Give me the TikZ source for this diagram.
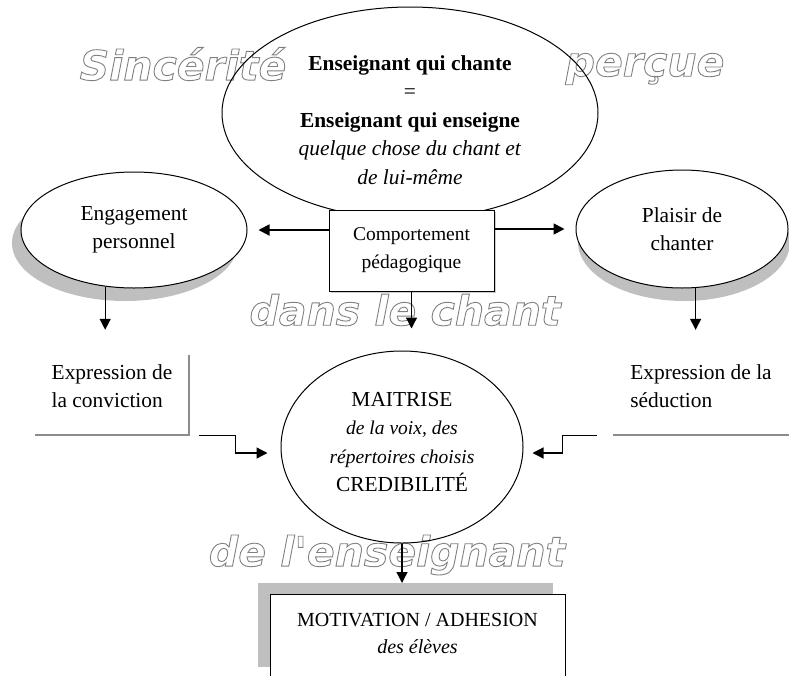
\documentclass[tikz,border=0pt]{standalone}
\usepackage{fontspec}
\setmainfont{Liberation Serif}
\newfontfamily\ghostfont{DejaVu Sans}
\newcommand{\ghostword}[1]{\special{pdf:literal direct 2 Tr 0.9 w 0.5 G}#1\special{pdf:literal direct 0 Tr}}
\usetikzlibrary{arrows.meta,positioning,shapes.geometric,shadows,calc}

\begin{document}
\begin{tikzpicture}[x=1pt, y=-1pt,
		ghost/.style={text=white, inner sep=0pt, font=\ghostfont\bfseries\itshape\fontsize{41}{41}\selectfont},
		bubble/.style={ellipse, draw, line width=1pt, inner sep=0pt, align=center, font=\fontsize{21.4}{28.5}\selectfont},
		bubshadow/.style={fill=white, drop shadow={shadow xshift=#1, shadow yshift=-13pt, fill=black!25, opacity=1}},
		card/.style={rectangle, draw, line width=1pt, fill=white, align=center},
		note/.style={align=left, inner sep=0pt, minimum height=80, font=\fontsize{21.4}{28}\selectfont},
		rim/.style={draw=black!45, line width=1.6pt},
		flow/.style={-{Triangle[length=11pt,width=11pt]}, line width=1.3pt}]
			\useasboundingbox (0,0) rectangle (789,675);

			% Watermark words behind the diagram
			\node[ghost] (wsinc) at (183,64) {\ghostword{Sincérité}};
			\node[ghost] (wperc) at (645,69) {\ghostword{perçue}};
			\node[ghost] (wdans) at (405,310) {\ghostword{dans le chant}};
			\node[ghost] (wens) at (387,555) {\ghostword{de l'enseignant}};

			% Top bubble
			\node[bubble, minimum width=376, minimum height=212] (chante) at (410,113)
				{\mbox{}\\[0pt]\textbf{Enseignant qui chante}\\=\\\textbf{Enseignant qui enseigne}\\\textit{quelque chose du chant et}\\\textit{de lui-même}};

			% Side bubbles
			\node[bubble, bubshadow=-9pt, minimum width=226, minimum height=116] (engage) at (134,230) {Engagement\\personnel};
			\node[bubble, bubshadow=2pt, minimum width=212, minimum height=118] (plaisir) at (682,229) {Plaisir de\\chanter};

			% Central box
			\node[card, minimum width=165, minimum height=81, font=\fontsize{19.5}{28}\selectfont,
				drop shadow={shadow xshift=2pt, shadow yshift=-2pt, fill=black!20, opacity=1}] (comport) at (411.5,250.5)
				{Comportement\\pédagogique};

			% Expression texts
			\node[note, minimum width=154] (conv) at (112,395) {Expression de\\la conviction\\[-10pt]\mbox{}};
			\node[note, minimum width=176] (seduc) at (701,395) {Expression de la\\séduction\\[-10pt]\mbox{}};
			\draw[rim] (conv.north east) -- (conv.south east) -- (conv.south west);
			\draw[rim] (seduc.south west) -- (seduc.south east);

			% Middle bubble
			\node[bubble, minimum width=242, minimum height=192] (maitrise) at (402,447)
				{MAITRISE\\{\fontsize{19.5}{27}\selectfont\itshape de la voix, des}\\{\fontsize{19.5}{27}\selectfont\itshape répertoires choisis}\\CREDIBILITÉ\\[-18pt]\mbox{}};

			% Bottom box
			\node[card, anchor=north, minimum width=295, minimum height=84, font=\fontsize{20}{27}\selectfont,
				drop shadow={shadow xshift=-12pt, shadow yshift=12pt, fill=black!25, opacity=1}] (motiv) at (417.5,594)
				{MOTIVATION / ADHESION\\\textit{des élèves}\\[-20pt]\mbox{}};

			% Arrows
			\draw[flow, line width=1.8pt, shorten >=11pt] (comport.west |- engage.east) -- (engage.east);
			\draw[flow, line width=1.8pt, shorten >=11pt] (comport.east |- plaisir.west) -- (plaisir.west);
			\draw[flow, shorten >=22pt] (comport.south) -- (comport.south |- maitrise.north);
			\draw[flow, shorten >=25pt] (engage.243) -- (engage.243 |- conv.north);
			\draw[flow, shorten >=25pt] (plaisir.283) -- (plaisir.283 |- seduc.north);
			\coordinate (lstep) at ([xshift=10pt]conv.south east);
			\coordinate (rstep) at ([xshift=-16pt]seduc.south west);
			\draw[flow] (lstep) -- ++(36,0) |- ([xshift=-13pt,yshift=-6pt]maitrise.west);
			\draw[flow] (rstep) -- ++(-34,0) |- ([xshift=9pt,yshift=-6pt]maitrise.east);
			\draw[flow, shorten >=11pt] (maitrise.south) -- (maitrise.south |- motiv.north);
		\end{tikzpicture}
\end{document}
